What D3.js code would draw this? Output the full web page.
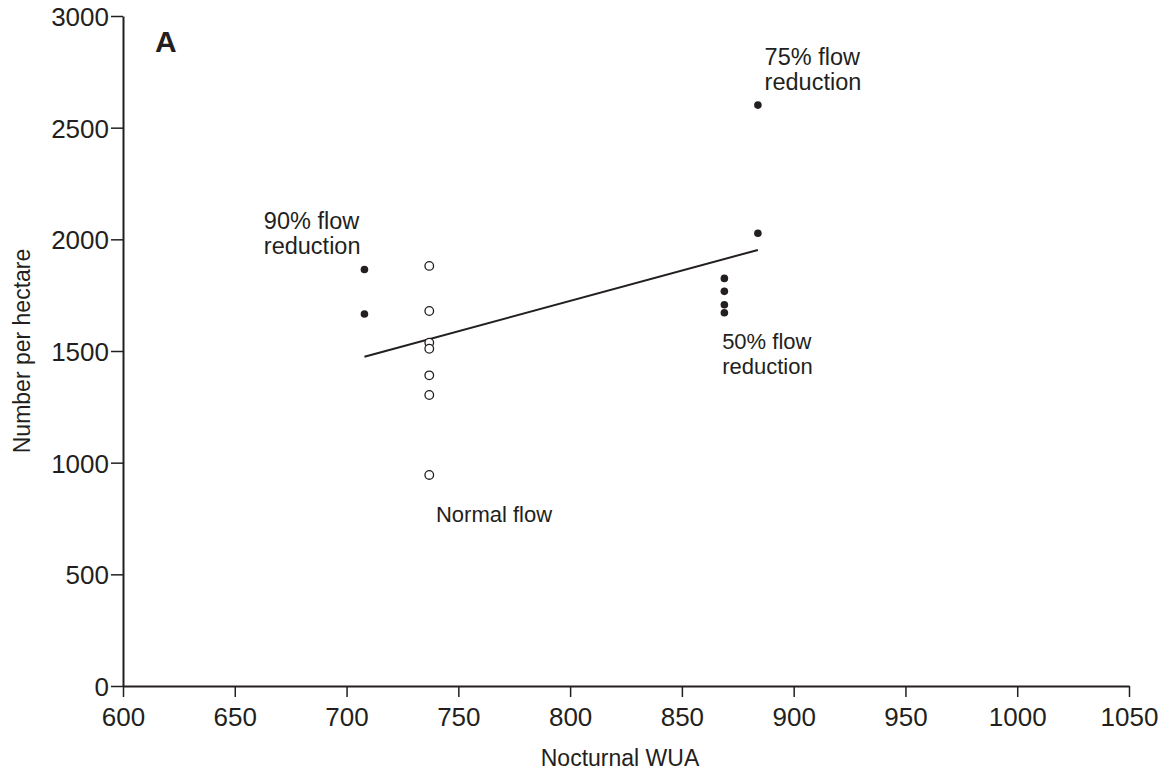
<!DOCTYPE html>
<html>
<head>
<meta charset="utf-8">
<script src="https://cdn.jsdelivr.net/npm/d3@7"></script>
<style>
  html, body { margin: 0; padding: 0; background: #fff; }
  svg { display: block; font-family: "Liberation Sans", Arial, sans-serif; }
</style>
</head>
<body>
<svg id="chart" width="1173" height="771"></svg>
<script>
// ---- data ----
const xTicks = [600, 650, 700, 750, 800, 850, 900, 950, 1000, 1050];
const yTicks = [0, 500, 1000, 1500, 2000, 2500, 3000];
const normalX = [737, 737, 737, 737, 737, 737, 737];
const normalY = [1881, 1679, 1537, 1510, 1391, 1303, 945];
const reducedX = [708, 708, 869, 869, 869, 869, 884, 884];
const reducedY = [1865, 1666, 1825, 1767, 1707, 1671, 2601, 2027];
const annotationText = [["75% flow", "reduction"], ["90% flow", "reduction"], ["50% flow", "reduction"], ["Normal flow"]];
const annotationX = [887, 663, 868, 740];
const annotationY = [2781, 2048, 1511, 733];
const xTitle = "Nocturnal WUA";
const yTitle = "Number per hectare";
const panelLabel = "A";

// ---- layout ----
const svg = d3.select("#chart");
const x = d3.scaleLinear().domain([600, 1050]).range([123, 1129]);
const y = d3.scaleLinear().domain([0, 3000]).range([686, 16]);
const ink = "#231f20";
const annotationSize = [23.5, 23.5, 22, 22];

// axes
const xAxis = svg.append("g").attr("transform", `translate(0,${y(0)})`)
  .call(d3.axisBottom(x).tickValues(xTicks).tickFormat(d3.format("d"))
    .tickSize(11).tickSizeOuter(0).tickPadding(11));
const yAxis = svg.append("g").attr("transform", `translate(${x(600)},0)`)
  .call(d3.axisLeft(y).tickValues(yTicks).tickFormat(d3.format("d"))
    .tickSize(12).tickSizeOuter(0).tickPadding(2));
[xAxis, yAxis].forEach(g => {
  g.select(".domain").attr("stroke", ink).attr("stroke-width", 2);
  g.selectAll(".tick line").attr("stroke", ink).attr("stroke-width", 1.5);
  g.selectAll(".tick text").attr("fill", ink).attr("font-size", 26)
    .attr("font-family", "Liberation Sans, Arial, sans-serif");
});
yAxis.selectAll(".tick text").attr("dy", "0.36em");

// titles
svg.append("text").attr("x", 620).attr("y", 766)
  .attr("text-anchor", "middle").attr("font-size", 23).attr("fill", ink).text(xTitle);
svg.append("text").attr("transform", `translate(30,${y(1500)}) rotate(-90)`)
  .attr("text-anchor", "middle").attr("font-size", 23).attr("fill", ink).text(yTitle);
svg.append("text").attr("x", 155).attr("y", 52).attr("font-size", 30)
  .attr("font-weight", "bold").attr("fill", ink).text(panelLabel);

// regression line (least squares over all points)
const allX = normalX.concat(reducedX), allY = normalY.concat(reducedY);
const mx = d3.mean(allX), my = d3.mean(allY);
const slope = d3.sum(allX, (v, i) => (v - mx) * (allY[i] - my)) / d3.sum(allX, v => (v - mx) * (v - mx));
const icpt = my - slope * mx;
const [x0, x1] = d3.extent(allX);
svg.append("line")
  .attr("x1", x(x0)).attr("y1", y(icpt + slope * x0))
  .attr("x2", x(x1)).attr("y2", y(icpt + slope * x1))
  .attr("stroke", ink).attr("stroke-width", 2);

// points
svg.append("g").selectAll("circle").data(normalY).join("circle")
  .attr("cx", (d, i) => x(normalX[i])).attr("cy", d => y(d)).attr("r", 4.3)
  .attr("fill", "#fff").attr("stroke", ink).attr("stroke-width", 1.3);
svg.append("g").selectAll("circle").data(reducedY).join("circle")
  .attr("cx", (d, i) => x(reducedX[i])).attr("cy", d => y(d)).attr("r", 3.8)
  .attr("fill", ink);

// annotations
annotationText.forEach((lines, k) => {
  const t = svg.append("text").attr("x", x(annotationX[k])).attr("y", y(annotationY[k]))
    .attr("font-size", annotationSize[k]).attr("fill", ink);
  lines.forEach((l, i) => t.append("tspan").attr("x", x(annotationX[k])).attr("dy", i ? 25.5 : 0).text(l));
});
</script>
</body>
</html>
